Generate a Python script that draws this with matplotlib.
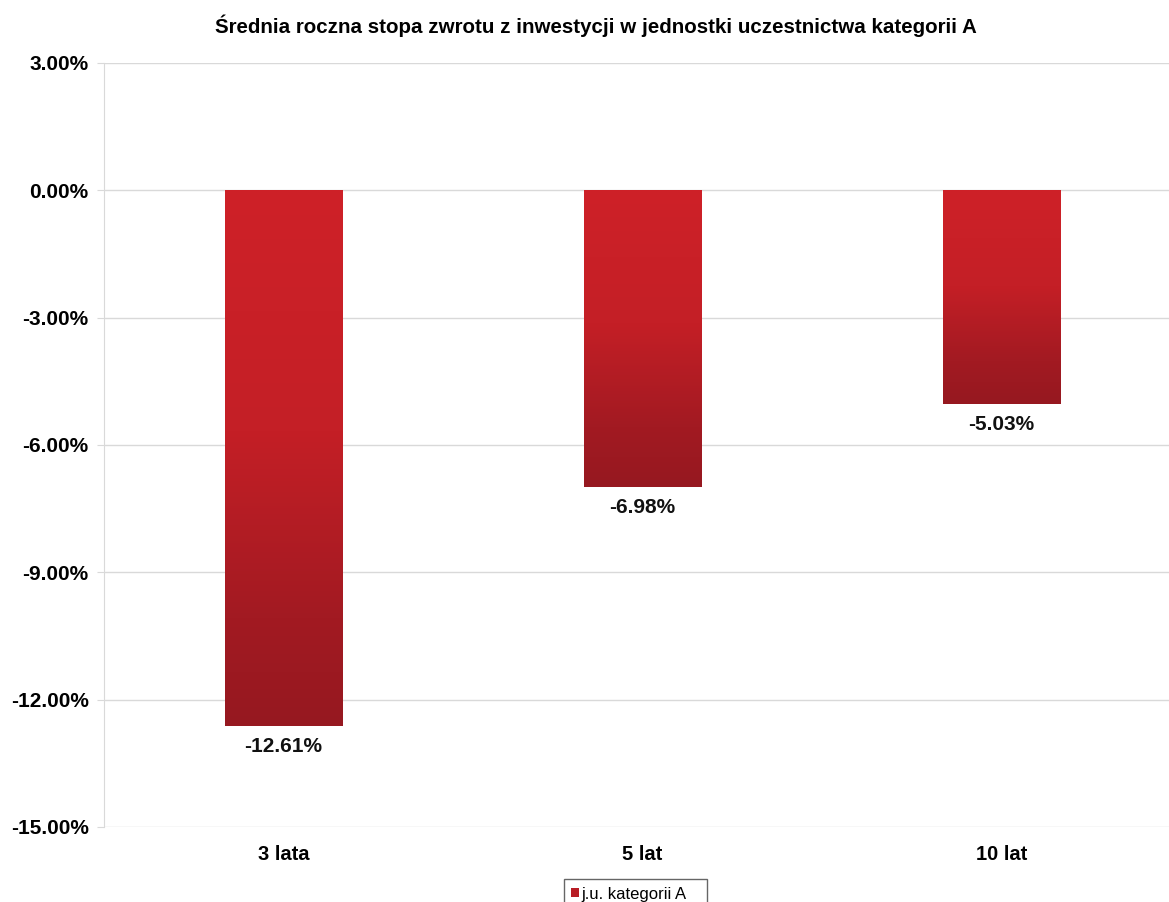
import matplotlib
matplotlib.use("Agg")
import matplotlib.pyplot as plt
import numpy as np
from matplotlib.colors import LinearSegmentedColormap
from matplotlib.ticker import FuncFormatter, MultipleLocator

categories = ["3 lata", "5 lat", "10 lat"]
values = [-12.61, -6.98, -5.03]
series_name = "j.u. kategorii A"
title = "Średnia roczna stopa zwrotu z inwestycji w jednostki uczestnictwa kategorii A"

plt.rcParams['font.family'] = ['Liberation Sans', 'DejaVu Sans']

fig = plt.figure(figsize=(11.69, 9.02), dpi=100)
ax = fig.add_axes([104/1169, 1 - 827/902, (1181-104)/1169, (827-63)/902])

x = np.arange(len(categories))
width = 0.326
bars = ax.bar(x, values, width=width, color="#B81D25", edgecolor="none", zorder=2,
              label=series_name)

cmap = LinearSegmentedColormap.from_list("g", [(0, "#CE2128"), (0.45, "#C41F26"),
                                               (0.8, "#A21A22"), (1, "#961820")])
grad = np.linspace(0, 1, 256).reshape(-1, 1)
for b in bars:
    bx, by = b.get_x(), b.get_y()
    w, h = b.get_width(), b.get_height()
    im = ax.imshow(grad, cmap=cmap, aspect="auto", interpolation="bicubic",
                   extent=[bx, bx + w, by + h, by], origin="upper", zorder=3)
    im.set_clip_path(b)

for xi, v in zip(x, values):
    ax.annotate(f"{v:.2f}%", (xi, v), xytext=(0, -8), textcoords="offset points",
                ha="center", va="top", fontsize=15, fontweight="bold", color="#111111")

ax.set_xlim(-0.5, len(categories) - 0.5)
ax.set_ylim(-15, 3)
ax.yaxis.set_major_locator(MultipleLocator(3))
ax.yaxis.set_major_formatter(FuncFormatter(lambda v, p: f"{v:.2f}%"))
ax.grid(axis="y", color="#D9D9D9", linewidth=1, zorder=0)
ax.set_axisbelow(True)
for s in ["top", "right", "bottom"]:
    ax.spines[s].set_visible(False)
ax.spines["left"].set_color("#D9D9D9")
ax.tick_params(axis="y", length=5, color="#D9D9D9", labelsize=15, pad=6)
ax.tick_params(axis="x", length=0, labelsize=14.5, pad=13)
for lab in ax.get_yticklabels() + ax.get_xticklabels():
    lab.set_fontweight("bold")
ax.set_xticks(x)
ax.set_xticklabels(categories)

fig.text(596/1169, 1 - 26/902, title, ha="center", va="center", fontsize=14.8,
         fontweight="bold")

leg = fig.legend(handles=[bars], labels=[series_name + "   "], loc="upper center",
                 bbox_to_anchor=(635.5/1169, 1 - 879/902), fontsize=12, frameon=True,
                 fancybox=False, edgecolor="#404040", handlelength=0.5, handleheight=0.5,
                 handletextpad=0.15, borderpad=0.45, borderaxespad=0)
leg.get_frame().set_linewidth(1)

fig.savefig("out.png", dpi=100)
